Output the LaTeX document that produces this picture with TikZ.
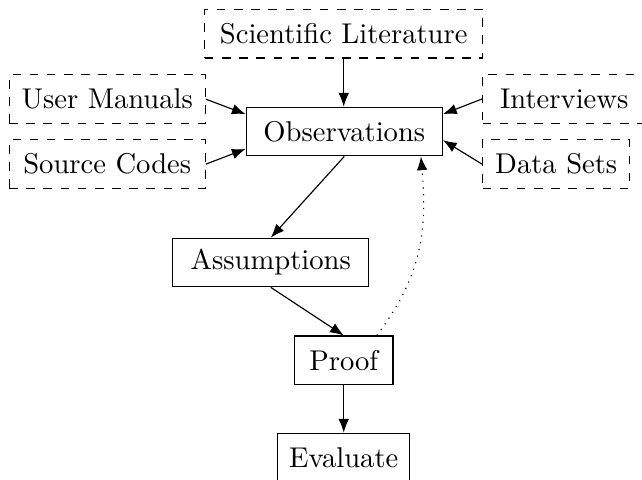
\documentclass[tikz,border=0pt]{standalone}
\usetikzlibrary{arrows.meta}
\begin{document}
\begin{tikzpicture}[x=1pt,y=1pt,
  box/.style={draw, line width=0.4pt, minimum height=17pt, inner xsep=4pt, inner ysep=3pt, minimum width=68.6pt},
  srcbox/.style={box, dashed},
  arr/.style={-{Latex[length=4.8pt,width=3.7pt]}, line width=0.4pt},
  fb/.style={arr, dotted}]
\useasboundingbox (0,0) rectangle (224.5,-167.8);
\node[srcbox, minimum width=97.1pt] (scilit) at (120.2,-11.8) {Scientific Literature};
\node[srcbox] (um) at (37.5,-34.7) {User Manuals};
\node[srcbox] (sc) at (37.5,-57.4) {Source Codes};
\node[srcbox, minimum width=57pt] (int) at (197.3,-34.6) {Interviews};
\node[srcbox, minimum width=51.5pt] (ds) at (194.5,-57.4) {Data Sets};
\node[box] (obs) at (120.4,-46.0) {Observations};
\node[box] (ass) at (94.7,-91.8) {Assumptions};
\node[box, minimum width=34.4pt] (proof) at (120.2,-126.0) {Proof};
\node[box, minimum width=45.8pt] (eval) at (120.2,-160.0) {Evaluate};
\draw[arr] (scilit.south) -- (scilit.south |- obs.north);
\draw[arr] (um.east) -- (obs.170);
\draw[arr] (sc.east) -- (obs.190);
\draw[arr] (int.west) -- (obs.10);
\draw[arr] (ds.west) -- (obs.-5);
\draw[arr] (obs.south) -- (ass.north);
\draw[arr] (ass.south) -- (proof.north);
\draw[arr] (proof.south) -- (eval.north);
\draw[fb] (proof.37) to[out=53,in=-85,out distance=24.5pt,in distance=28pt] (obs.-18);
\end{tikzpicture}
\end{document}
